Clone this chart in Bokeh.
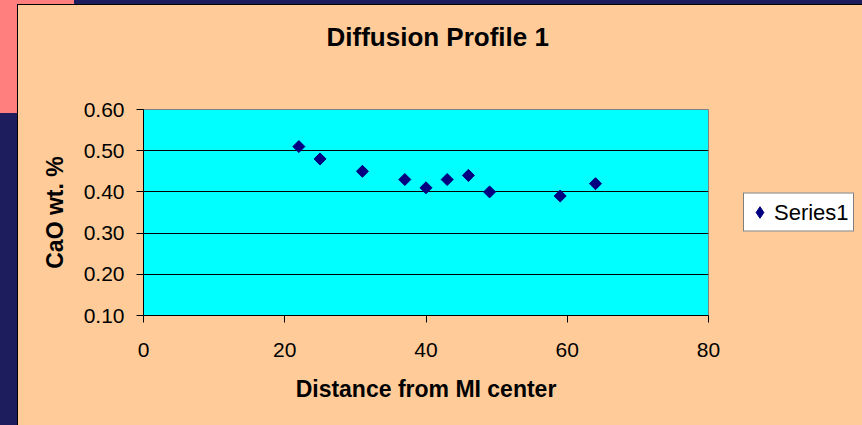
import numpy as np
from bokeh.plotting import figure
from bokeh.models import (ColumnDataSource, FixedTicker, Legend, LegendItem,
                          NumeralTickFormatter, InlineStyleSheet, Range1d, Title)
from bokeh.embed import file_html
from bokeh.resources import INLINE

# ---- data ----
distance = [22, 25, 31, 37, 40, 43, 46, 49, 59, 64]
cao = [0.51, 0.48, 0.45, 0.43, 0.41, 0.43, 0.44, 0.40, 0.39, 0.42]
series_name = "Series1"
x_ticks = [0, 20, 40, 60, 80]
y_ticks = [0.10, 0.20, 0.30, 0.40, 0.50, 0.60]
title_text = "Diffusion Profile 1"
x_label = "Distance from MI center"
y_label = "CaO wt. %"

FONT = "Liberation Sans"
PEACH = "#FFCC99"
CYAN = "#00FFFF"
NAVY_MARK = "#000080"
SLIDE_BG = "#1D1D5E"
PINK = "#FF7F7F"

p = figure(width=862, height=425, output_backend="svg", toolbar_location=None,
           x_range=Range1d(x_ticks[0], x_ticks[-1]),
           y_range=Range1d(y_ticks[0], y_ticks[-1]),
           frame_width=565, frame_height=206,
           min_border_left=143, min_border_right=154,
           min_border_top=109, min_border_bottom=110)

# slide-style background drawn behind the (transparent) canvas
css = f"""
:host {{
  background:
    linear-gradient({PEACH},{PEACH}) 18px 5px / 844px 420px no-repeat,
    linear-gradient(#000,#000) 17px 4px / 846px 421px no-repeat,
    linear-gradient({PINK},{PINK}) 0px 0px / 74px 113px no-repeat,
    {SLIDE_BG};
}}
"""
p.stylesheets = [InlineStyleSheet(css=css)]
p.border_fill_alpha = 0
p.background_fill_color = CYAN
p.outline_line_color = "#808080"
p.outline_line_width = 1

# empty spacer panel between the frame and the title
spacer = Title(text=" ", text_font_size="10px", standoff=27)
p.add_layout(spacer, "above")

# title
p.title.text = title_text
p.title.align = "left"
p.title.offset = 183
p.title.vertical_align = "top"
p.title.text_font = FONT
p.title.text_font_size = "26px"
p.title.text_font_style = "bold"
p.title.text_color = "black"
p.title.standoff = 32

src = ColumnDataSource(dict(x=distance, y=cao))
r = p.scatter("x", "y", source=src, marker="square", size=8.5, angle=np.pi / 4,
              fill_color=NAVY_MARK, line_color=NAVY_MARK)
# legend-only proxy glyph (diamond shape, like the data markers)
r_leg = p.scatter(x=[np.nan], y=[np.nan], marker="diamond", size=10,
                  fill_color=NAVY_MARK, line_color=NAVY_MARK)

# axes
for ax in (p.xaxis[0], p.yaxis[0]):
    ax.axis_line_color = "black"
    ax.major_tick_line_color = "black"
    ax.major_tick_in = 0
    ax.major_tick_out = 7
    ax.minor_tick_line_color = None
    ax.major_label_text_font = FONT
    ax.major_label_text_font_size = "21px"
    ax.major_label_text_color = "black"
    ax.axis_label_text_font = FONT
    ax.axis_label_text_font_size = "23px"
    ax.axis_label_text_font_style = "bold"
    ax.axis_label_text_color = "black"

p.xaxis.ticker = FixedTicker(ticks=x_ticks)
p.yaxis.ticker = FixedTicker(ticks=y_ticks)
p.yaxis.formatter = NumeralTickFormatter(format="0.00")
p.xaxis.axis_label = x_label
p.yaxis.axis_label = y_label
p.xaxis.major_label_standoff = 20
p.yaxis.major_label_standoff = 12
p.xaxis.axis_label_standoff = 16
p.yaxis.axis_label_standoff = 13

p.xgrid.visible = False
p.ygrid.ticker = FixedTicker(ticks=y_ticks[1:-1])
p.ygrid.grid_line_color = "black"
p.ygrid.grid_line_width = 1

legend = Legend(items=[LegendItem(label=series_name, renderers=[r_leg])],
                location="center_left", orientation="vertical")
legend.margin = 35
legend.padding = 1
legend.spacing = 0
legend.glyph_width = 29
legend.glyph_height = 35
legend.label_standoff = -2
legend.label_width = 78
legend.label_text_font = FONT
legend.label_text_font_size = "22px"
legend.label_text_color = "black"
legend.border_line_color = "black"
legend.border_line_width = 1
legend.background_fill_color = "white"
legend.background_fill_alpha = 1
p.add_layout(legend, "right")

open("out.html", "w").write(file_html(p, INLINE))
